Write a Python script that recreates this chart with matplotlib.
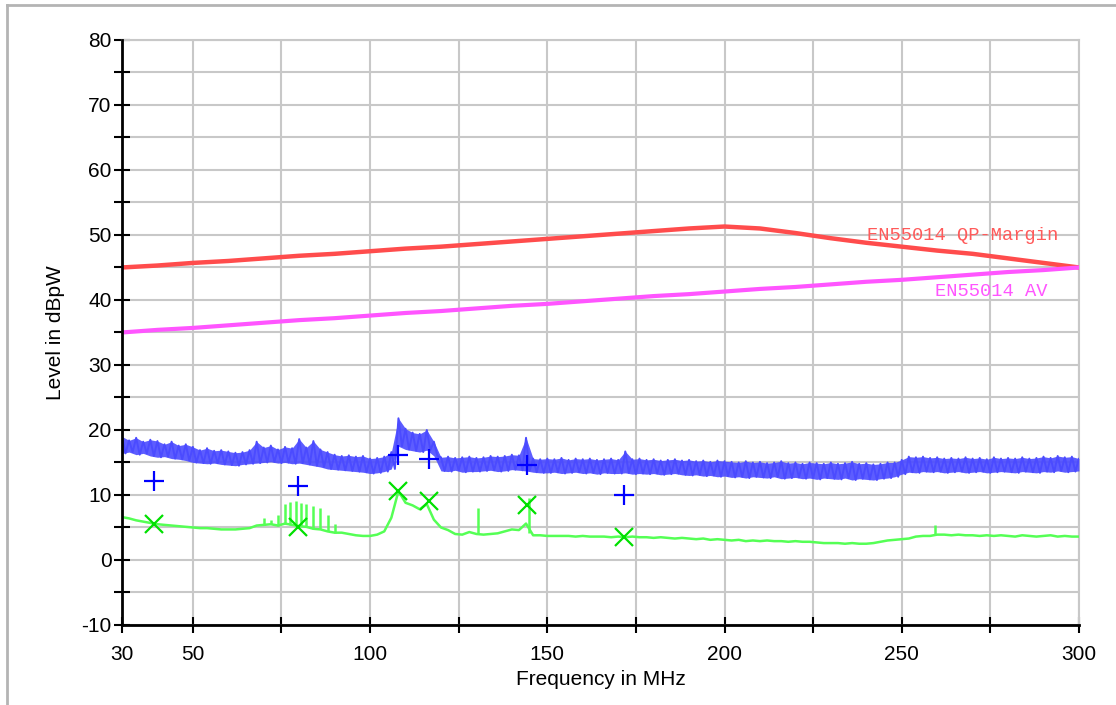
import matplotlib.pyplot as plt
from matplotlib.lines import Line2D
import numpy as np

# Limit lines, read every 10 MHz from 30 to 300
qp_margin = [45.0, 45.3, 45.7, 46.0, 46.4, 46.8, 47.1, 47.5, 47.9, 48.2,
             48.6, 49.0, 49.4, 49.8, 50.2, 50.6, 51.0, 51.3, 51.0, 50.3,
             49.5, 48.8, 48.2, 47.6, 47.1, 46.4, 45.7, 45.0]
av_limit = [35.0, 35.4, 35.7, 36.1, 36.5, 36.9, 37.2, 37.6, 38.0, 38.3,
            38.7, 39.1, 39.4, 39.8, 40.2, 40.6, 40.9, 41.3, 41.7, 42.0,
            42.4, 42.8, 43.1, 43.5, 43.9, 44.3, 44.6, 45.0]

# Peak scan (blue) noise band, upper edge at even MHz, lower edge at odd MHz
peak_upper = [19.0, 18.4, 18.8, 18.2, 18.5, 18.3, 17.8, 18.2, 17.6, 17.8,
              17.4, 16.9, 17.2, 16.8, 16.9, 16.7, 16.5, 16.6, 16.9, 18.2,
              17.3, 17.6, 17.0, 17.4, 17.2, 18.6, 17.3, 18.3, 17.0, 16.6,
              16.2, 16.0, 16.1, 15.9, 16.0, 15.6, 15.7, 15.9, 16.6, 21.8,
              20.2, 19.6, 19.4, 20.0, 18.2, 15.8, 15.9, 15.7, 15.8, 15.9,
              15.7, 15.8, 16.0, 15.9, 16.0, 16.2, 16.1, 18.8, 15.6, 15.5,
              15.6, 15.5, 15.7, 15.4, 15.6, 15.5, 15.6, 15.4, 15.5, 15.6,
              15.4, 16.7, 15.5, 15.6, 15.4, 15.5, 15.3, 15.4, 15.5, 15.3,
              15.4, 15.2, 15.3, 15.1, 15.3, 15.2, 15.1, 15.0, 15.2, 15.0,
              15.1, 14.9, 15.0, 15.2, 14.9, 15.0, 14.8, 15.0, 14.9, 14.8,
              15.0, 14.8, 14.9, 15.1, 14.8, 14.9, 14.7, 14.8, 15.0, 15.0,
              15.4, 15.9, 15.8, 15.9, 15.7, 15.8, 15.6, 15.7, 15.6, 15.8,
              15.6, 15.7, 15.5, 15.8, 15.6, 15.7, 15.6, 15.8, 15.6, 15.7,
              15.9, 15.7, 16.0, 15.8, 15.9, 15.6]
peak_lower = [16.4, 16.6, 16.2, 16.4, 16.0, 15.8, 15.9, 15.6, 15.5, 15.3,
              15.0, 14.9, 14.8, 14.9, 14.7, 14.6, 14.5, 14.7, 14.8, 14.9,
              15.0, 15.1, 14.9, 15.0, 14.8, 14.9, 14.7, 14.5, 14.3, 14.0,
              13.9, 13.8, 13.7, 13.6, 13.5, 13.3, 13.4, 13.6, 14.0, 17.5,
              17.0, 16.8, 16.6, 16.9, 16.0, 13.7, 13.6, 13.8, 13.5, 13.6,
              13.6, 13.7, 13.8, 13.6, 13.7, 13.9, 13.8, 13.7, 13.5, 13.4,
              13.4, 13.5, 13.3, 13.4, 13.5, 13.3, 13.4, 13.2, 13.4, 13.3,
              13.3, 13.4, 13.2, 13.3, 13.2, 13.3, 13.1, 13.2, 13.3, 13.1,
              13.0, 13.1, 12.9, 13.0, 12.8, 12.9, 12.7, 12.8, 12.6, 12.8,
              12.7, 12.6, 12.8, 12.5, 12.6, 12.7, 12.5, 12.6, 12.4, 12.6,
              12.5, 12.4, 12.6, 12.3, 12.5, 12.4, 12.3, 12.5, 12.6, 12.8,
              13.2, 13.5, 13.4, 13.6, 13.5, 13.6, 13.4, 13.5, 13.6, 13.4,
              13.5, 13.6, 13.4, 13.5, 13.6, 13.5, 13.4, 13.6, 13.5, 13.4,
              13.6, 13.5, 13.7, 13.5, 13.6, 13.7]

# Average scan (green), read every 2 MHz from 30 to 300
avg_scan = [6.6, 6.4, 6.1, 5.9, 5.7, 5.5, 5.4, 5.3, 5.2, 5.1,
            5.0, 4.9, 4.9, 4.8, 4.7, 4.7, 4.7, 4.8, 4.9, 5.3,
            5.4, 5.5, 5.3, 5.6, 5.4, 5.2, 5.1, 4.8, 4.7, 4.4,
            4.2, 4.2, 4.0, 3.8, 3.7, 3.7, 3.9, 4.4, 6.5, 10.6,
            8.8, 8.4, 7.8, 8.6, 6.2, 5.0, 4.6, 4.0, 3.9, 4.3,
            4.0, 3.9, 4.0, 4.1, 4.4, 4.7, 4.6, 5.6, 3.8, 3.8,
            3.7, 3.7, 3.7, 3.7, 3.6, 3.7, 3.6, 3.6, 3.6, 3.5,
            3.6, 3.5, 3.6, 3.5, 3.5, 3.4, 3.5, 3.4, 3.3, 3.4,
            3.3, 3.2, 3.3, 3.1, 3.2, 3.1, 3.0, 3.1, 2.9, 3.0,
            2.9, 3.0, 2.9, 2.9, 2.8, 2.9, 2.8, 2.8, 2.7, 2.6,
            2.6, 2.6, 2.5, 2.6, 2.5, 2.5, 2.6, 2.8, 3.0, 3.1,
            3.2, 3.3, 3.6, 3.7, 3.7, 3.9, 3.9, 3.8, 3.9, 3.8,
            3.8, 3.7, 3.8, 3.7, 3.8, 3.7, 3.6, 3.8, 3.7, 3.6,
            3.7, 3.8, 3.6, 3.7, 3.6, 3.6]

# narrow spikes in the average scan
spike_freq = [70, 72, 74, 76, 77.5, 79, 80.5, 82, 84, 86, 88, 90, 130.5, 144.8, 259.5]
spike_base = [5.4, 5.5, 5.3, 5.5, 5.4, 5.3, 5.2, 5.1, 4.8, 4.7, 4.4, 4.2, 4.0, 4.2, 3.9]
spike_top = [6.4, 6.2, 6.9, 8.6, 8.9, 9.0, 8.8, 8.6, 8.3, 8.0, 6.9, 5.6, 8.0, 9.6, 5.4]

# final measurement points
qp_freq = [39.0, 79.6, 108.0, 116.6, 144.2, 171.7]
qp_level = [12.1, 11.4, 16.2, 15.5, 14.6, 10.0]
av_freq = [39.0, 79.7, 108.0, 116.6, 144.2, 171.7]
av_level = [5.6, 5.1, 10.6, 9.0, 8.5, 3.6]

plt.rcParams['font.family'] = ['Liberation Sans', 'DejaVu Sans']
plt.rcParams['axes.unicode_minus'] = False

fig = plt.figure(figsize=(11.16, 7.05), dpi=100)
ax = fig.add_axes([0.1093, 0.1135, 0.8575, 0.8298])

limit_f = np.linspace(30, 300, len(qp_margin))
scan_f = np.linspace(30, 300, len(peak_upper))
avg_f = np.linspace(30, 300, len(avg_scan))

# peak scan drawn as a zig-zag between the band edges (1 MHz pitch)
zig_f = np.empty(2 * len(scan_f))
zig_f[0::2] = scan_f
zig_f[1::2] = scan_f + 1
zig_v = np.empty(2 * len(scan_f))
zig_v[0::2] = peak_upper
zig_v[1::2] = peak_lower
ax.fill_between(scan_f, peak_lower, peak_upper, color='#4b4bff', lw=0, alpha=0.9, zorder=3)
ax.plot(zig_f, zig_v, color='#4b4bff', lw=1.4, zorder=3)

ax.plot(avg_f, avg_scan, color='#55ff55', lw=1.8, zorder=3)
ax.vlines(spike_freq, spike_base, spike_top, color='#55ff55', lw=1.8, zorder=3)
ax.plot(limit_f, qp_margin, color='#ff4c4c', lw=3.2, zorder=4)
ax.plot(np.linspace(30, 300, len(av_limit)), av_limit, color='#ff55ff', lw=3.0, zorder=4)
ax.plot(qp_freq, qp_level, '+', color='#0000ff', ms=15, mew=1.6, zorder=5)
ax.plot(av_freq, av_level, 'x', color='#00e000', ms=13, mew=1.6, zorder=5)

ax.text(240.2, 49.9, 'EN55014 QP-Margin', color='#ff5a5a', fontsize=13.5,
        family='Liberation Mono', va='center', ha='left')
ax.text(259.4, 41.3, 'EN55014 AV', color='#ff55ff', fontsize=13.5,
        family='Liberation Mono', va='center', ha='left')

ax.set_xlim(30, 300)
ax.set_ylim(-10, 80)
xt = [30, 50, 75, 100, 125, 150, 175, 200, 225, 250, 275, 300]
ax.set_xticks(xt)
ax.set_xticklabels(['30', '50', '', '100', '', '150', '', '200', '', '250', '', '300'])
ax.set_yticks(np.arange(-10, 81, 10))
ax.set_yticks(np.arange(-5, 80, 10), minor=True)
ax.grid(True, which='both', color='#c8c8c8', lw=1.5)
ax.set_axisbelow(True)
ax.tick_params(which='both', direction='inout', length=11, width=1.5, labelsize=15)
ax.tick_params(axis='x', pad=9)
ax.tick_params(axis='y', pad=2)

for s in ['left', 'bottom']:
    ax.spines[s].set_linewidth(2)
    ax.spines[s].set_zorder(6)
for s in ['top', 'right']:
    ax.spines[s].set_color('#c8c8c8')
    ax.spines[s].set_linewidth(1.5)

ax.set_xlabel('Frequency in MHz', fontsize=15, labelpad=4)
ax.set_ylabel('Level in dBpW', fontsize=15, labelpad=12)

# grey frame around the page
fig.add_artist(Line2D([7 / 1116, 7 / 1116], [0, 1 - 5 / 705], color='#b4b4b4', lw=2))
fig.add_artist(Line2D([7 / 1116, 1], [1 - 5 / 705, 1 - 5 / 705], color='#b4b4b4', lw=2))

plt.savefig('out.png', dpi=100)
